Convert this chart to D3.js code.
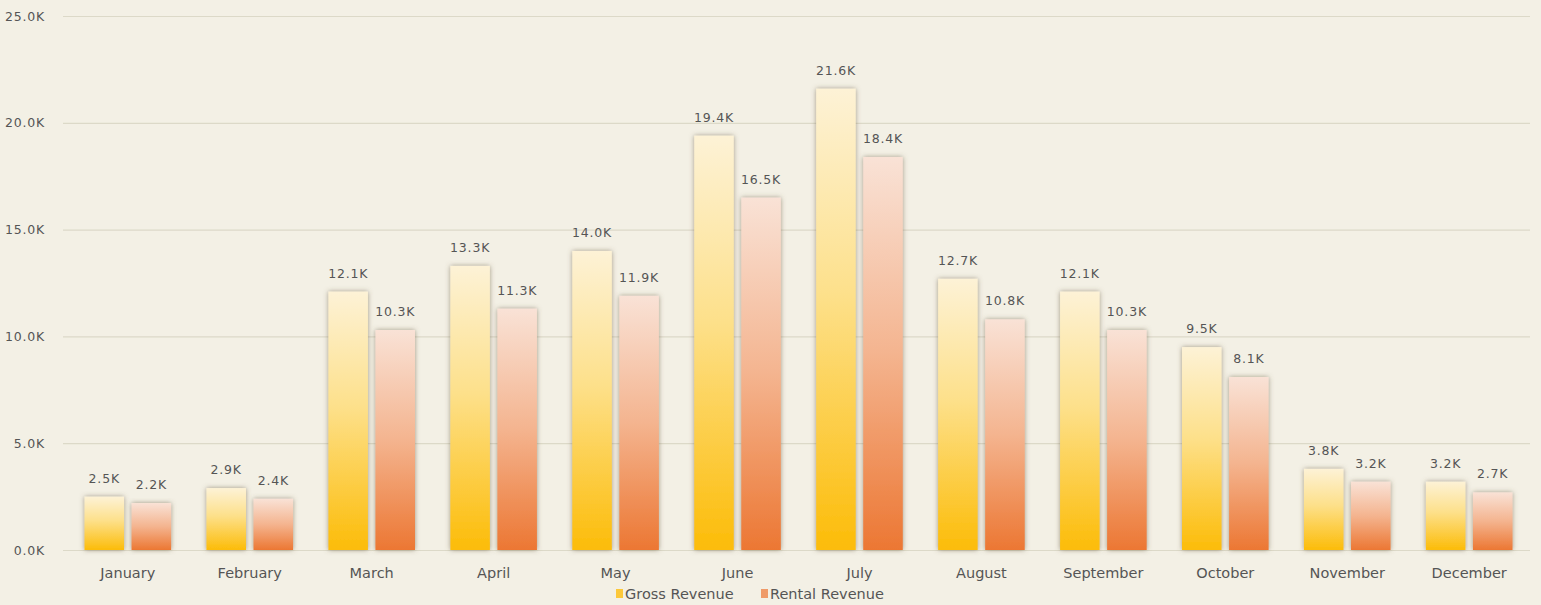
<!DOCTYPE html>
<html><head><meta charset="utf-8">
<script src="https://cdn.jsdelivr.net/npm/d3@7"></script>
<style>
html,body{margin:0;padding:0;background:#f3f0e5;}
svg{display:block;}
text{font-family:"DejaVu Sans",sans-serif;fill:#555;}
</style></head>
<body>
<svg id="chart" width="1541" height="605"></svg>
<script>
const months = ["January","February","March","April","May","June","July","August","September","October","November","December"];
const grossRevenue = [2.5, 2.9, 12.1, 13.3, 14.0, 19.4, 21.6, 12.7, 12.1, 9.5, 3.8, 3.2];
const rentalRevenue = [2.2, 2.4, 10.3, 11.3, 11.9, 16.5, 18.4, 10.8, 10.3, 8.1, 3.2, 2.7];
const yTicks = [0, 5, 10, 15, 20, 25];
const seriesNames = ["Gross Revenue", "Rental Revenue"];

const svg = d3.select("#chart");
const W = 1541, H = 605;
const m = {left: 63, right: 11, top: 16, bottom: 55};

const x = d3.scaleBand().domain(months).range([m.left + 2, W - m.right + 2]).paddingInner(0.29).paddingOuter(0.16);
const x1 = d3.scaleBand().domain(seriesNames).range([0, x.bandwidth()]).paddingInner(0.16);
const y = d3.scaleLinear().domain([0, 25]).range([H - m.bottom, m.top]);

const defs = svg.append("defs");
const g1 = defs.append("linearGradient").attr("id", "gGross").attr("x1", 0).attr("y1", 0).attr("x2", 0).attr("y2", 1);
g1.append("stop").attr("offset", "0%").attr("stop-color", "#fdf2d6");
g1.append("stop").attr("offset", "45%").attr("stop-color", "#fde08a");
g1.append("stop").attr("offset", "100%").attr("stop-color", "#fcbc08");
const g2 = defs.append("linearGradient").attr("id", "gRental").attr("x1", 0).attr("y1", 0).attr("x2", 0).attr("y2", 1);
g2.append("stop").attr("offset", "0%").attr("stop-color", "#f9e2d6");
g2.append("stop").attr("offset", "50%").attr("stop-color", "#f4b48f");
g2.append("stop").attr("offset", "100%").attr("stop-color", "#ec7733");
const f = defs.append("filter").attr("id", "shadow").attr("x", "-30%").attr("y", "-10%").attr("width", "160%").attr("height", "120%");
f.append("feDropShadow").attr("dx", 0).attr("dy", 0).attr("stdDeviation", 2.4).attr("flood-color", "#6b5a40").attr("flood-opacity", 0.6);

// grid
svg.append("g").selectAll("line").data(yTicks).join("line")
  .attr("x1", m.left).attr("x2", W - m.right)
  .attr("y1", d => y(d) + 0.5).attr("y2", d => y(d) + 0.5)
  .attr("stroke", "#dcd9c8").attr("stroke-width", 1.2);

// y axis
const yAxis = svg.append("g").attr("transform", `translate(${m.left - 15},0)`)
  .call(d3.axisLeft(y).tickValues(yTicks).tickSize(0).tickFormat(d => d3.format(".1f")(d) + "K"));
yAxis.select(".domain").remove();
yAxis.selectAll("text").attr("font-size", 12.5).attr("fill", "#555").style("letter-spacing", "0.8px").attr("dx", 0);

// x axis
const xAxis = svg.append("g").attr("transform", `translate(0,${H - m.bottom + 15})`)
  .call(d3.axisBottom(x).tickSize(0));
xAxis.select(".domain").remove();
xAxis.selectAll("text").attr("font-size", 14.5).attr("fill", "#555").attr("dy", "0.7em");

const groups = svg.append("g").selectAll("g").data(months).join("g")
  .attr("transform", d => `translate(${x(d)},0)`);

const rows = months.map((mo, i) => [
  {s: seriesNames[0], v: grossRevenue[i], fill: "url(#gGross)"},
  {s: seriesNames[1], v: rentalRevenue[i], fill: "url(#gRental)"}
]);

groups.each(function(mo, i) {
  const g = d3.select(this);
  g.selectAll("rect").data(rows[i]).join("rect")
    .attr("x", d => x1(d.s)).attr("width", x1.bandwidth())
    .attr("y", d => y(d.v)).attr("height", d => y(0) - y(d.v))
    .attr("fill", d => d.fill).attr("filter", "url(#shadow)");
  g.selectAll("text.lbl").data(rows[i]).join("text").attr("class", "lbl")
    .attr("x", d => x1(d.s) + x1.bandwidth() / 2).attr("y", d => y(d.v) - 14)
    .attr("text-anchor", "middle").attr("font-size", 12.5).style("letter-spacing", "0.8px")
    .text(d => d3.format(".1f")(d.v) + "K");
});

// legend
const legend = svg.append("g").attr("transform", "translate(616,594)");
const lg = [{n: seriesNames[0], c: "#fcc83a", x: 0}, {n: seriesNames[1], c: "#ef9a68", x: 145}];
lg.forEach(d => {
  legend.append("rect").attr("x", d.x).attr("y", -5).attr("width", 7).attr("height", 9).attr("fill", d.c);
  legend.append("text").attr("x", d.x + 9).attr("y", 0).attr("dy", "0.35em").attr("font-size", 14.5).attr("fill", "#555").text(d.n);
});
</script>
</body></html>
